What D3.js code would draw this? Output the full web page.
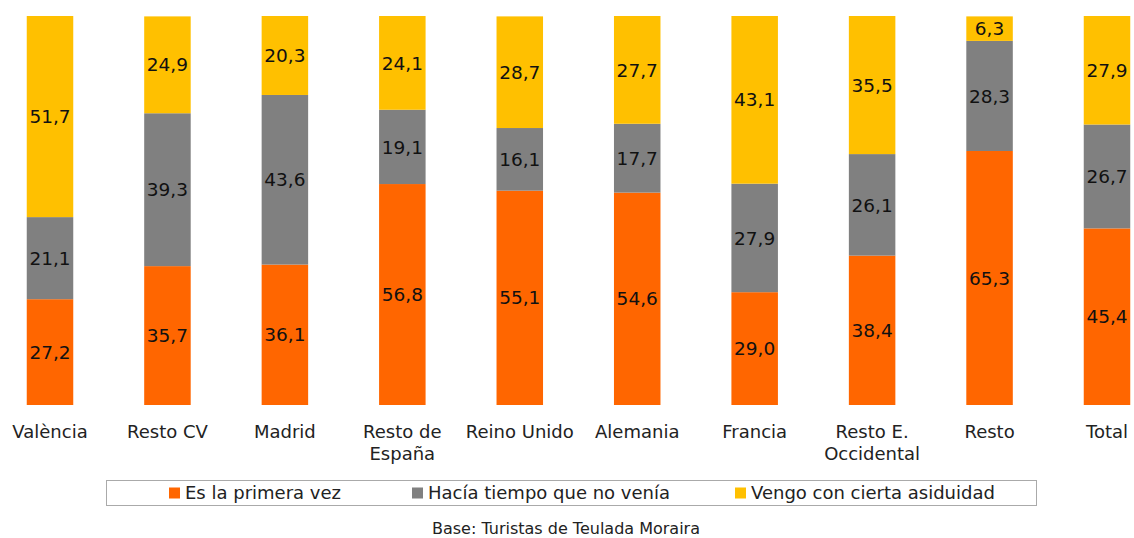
<!DOCTYPE html>
<html>
<head>
<meta charset="utf-8" />
<title>Turistas Teulada Moraira</title>
<script src="https://d3js.org/d3.v7.min.js"></script>
<style>
  body { margin: 0; background: #fff; }
  text { font-family: "DejaVu Sans", Verdana, sans-serif; }
</style>
</head>
<body>
<svg id="chart" width="1134" height="538"></svg>
<script>
var categories = [["València"], ["Resto CV"], ["Madrid"], ["Resto de", "España"], ["Reino Unido"],
  ["Alemania"], ["Francia"], ["Resto E.", "Occidental"], ["Resto"], ["Total"]];
var seriesNames = ["Es la primera vez", "Hacía tiempo que no venía", "Vengo con cierta asiduidad"];
var primeraVez = [27.2, 35.7, 36.1, 56.8, 55.1, 54.6, 29.0, 38.4, 65.3, 45.4];
var haciaTiempo = [21.1, 39.3, 43.6, 19.1, 16.1, 17.7, 27.9, 26.1, 28.3, 26.7];
var asiduidad = [51.7, 24.9, 20.3, 24.1, 28.7, 27.7, 43.1, 35.5, 6.3, 27.9];
var colors = ["#ff6600", "#808080", "#ffc000"];
var caption = "Base: Turistas de Teulada Moraira";

var svg = d3.select("#chart");

var rows = categories.map(function(c, i) {
  return { key: i, s0: primeraVez[i], s1: haciaTiempo[i], s2: asiduidad[i] };
});
var stack = d3.stack().keys(["s0", "s1", "s2"]);
var layers = stack(rows);

var step = (1107 - 50) / 9;
var x = d3.scaleBand()
  .domain(d3.range(categories.length))
  .range([50 - step / 2, 1107 + step / 2])
  .paddingInner(0.604)
  .paddingOuter(0.302);

var y = d3.scaleLinear().domain([0, 100]).range([405, 16]);

var fmt = function(v) { return d3.format(".1f")(v).replace(".", ","); };

layers.forEach(function(layer, li) {
  var g = svg.append("g");
  g.selectAll("rect").data(layer).enter().append("rect")
    .attr("x", function(d, i) { return x(i); })
    .attr("width", x.bandwidth())
    .attr("y", function(d) { return y(d[1]); })
    .attr("height", function(d) { return y(d[0]) - y(d[1]); })
    .attr("fill", colors[li]);
  g.selectAll("text").data(layer).enter().append("text")
    .attr("x", function(d, i) { return x(i) + x.bandwidth() / 2; })
    .attr("y", function(d) { return (y(d[0]) + y(d[1])) / 2; })
    .attr("dy", "0.36em")
    .attr("text-anchor", "middle")
    .attr("font-size", 18.5)
    .attr("fill", "#111")
    .text(function(d) { return fmt(d[1] - d[0]); });
});

// category labels
var labels = svg.append("g").selectAll("text").data(categories).enter().append("text")
  .attr("x", function(d, i) { return x(i) + x.bandwidth() / 2; })
  .attr("y", 438)
  .attr("text-anchor", "middle")
  .attr("font-size", 18)
  .attr("fill", "#222");
labels.selectAll("tspan").data(function(d) { return d; }).enter().append("tspan")
  .attr("x", function() { return d3.select(this.parentNode).attr("x"); })
  .attr("dy", function(d, i) { return i ? 22 : 0; })
  .text(function(d) { return d; });

// legend
svg.append("rect")
  .attr("x", 106.5).attr("y", 480.5).attr("width", 930).attr("height", 25)
  .attr("fill", "#fff").attr("stroke", "#aaa");
var legendX = [169, 412, 735];
var leg = svg.append("g").selectAll("g").data(seriesNames).enter().append("g")
  .attr("transform", function(d, i) { return "translate(" + legendX[i] + ",493)"; });
leg.append("rect").attr("x", 0).attr("y", -5.5).attr("width", 11).attr("height", 11)
  .attr("fill", function(d, i) { return colors[i]; });
leg.append("text").attr("x", 16).attr("dy", "0.36em").attr("font-size", 18).attr("fill", "#222")
  .text(function(d) { return d; });

svg.append("text")
  .attr("x", 566).attr("y", 534)
  .attr("text-anchor", "middle")
  .attr("font-size", 16)
  .attr("fill", "#222")
  .text(caption);
</script>
</body>
</html>
